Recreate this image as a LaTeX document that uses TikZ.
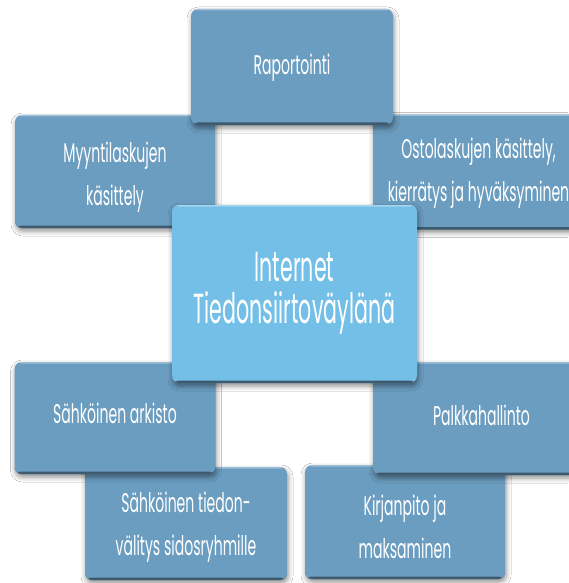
\documentclass[tikz,border=0pt]{standalone}
\usepackage{fontspec}
\newfontfamily\boxfont[FakeStretch=0.52]{Poppins}
\newfontfamily\bigfont[FakeStretch=0.49]{Poppins}
\usetikzlibrary{shadows.blur}
\definecolor{boxblue}{HTML}{6B9DC0}
\definecolor{boxlight}{HTML}{74BFE7}
\definecolor{edgedark}{HTML}{3E5A6E}
\tikzset{
  panel/.style={fill=boxblue, rounded corners=7pt, inner sep=0pt,
    blur shadow={shadow xshift=1pt, shadow yshift=-3pt, shadow blur radius=5pt, shadow opacity=45},
    path picture={
      \fill[edgedark] (path picture bounding box.south west) rectangle ([yshift=2.5pt]path picture bounding box.south east);
      \fill[white,opacity=.35] (path picture bounding box.north west) rectangle ([yshift=-1.5pt]path picture bounding box.north east);
    }},
  hub/.style={panel, fill=boxlight},
  paneltext/.style={inner sep=0pt, align=center, text=white, font=\boxfont\fontsize{27}{43}\selectfont},
  hubtext/.style={paneltext, font=\bigfont\fontsize{42}{42}\selectfont}
}
\begin{document}
\begin{tikzpicture}[x=1pt,y=-1pt]
\useasboundingbox (0,0) rectangle (568,583);
\fill[white] (0,0) rectangle (568,583);
% boxes, back to front
\node[panel, minimum width=200pt, minimum height=113pt] (myynti) at (115,171.5) {};
\node[paneltext] (myyntiT) at ([yshift=-6pt]myynti.center) {Myyntilaskujen\\käsittely};
\node[panel, minimum width=217pt, minimum height=115pt] (osto) at (481.5,172) {};
\node[paneltext] (ostoT) at ([xshift=-3pt,yshift=-1pt]osto.center) {Ostolaskujen käsittely,\\kierrätys ja hyväksyminen};
\node[panel, minimum width=202pt, minimum height=116pt] (rap) at (292,67) {};
\node[paneltext] (rapT) at ([yshift=-1pt]rap.center) {Raportointi};
\node[panel, minimum width=200pt, minimum height=114pt] (kirj) at (405,522) {};
\node[paneltext] (kirjT) at ([yshift=-5pt]kirj.center) {Kirjanpito ja\\maksaminen};
\node[panel, minimum width=202pt, minimum height=113pt] (tiedon) at (186,523.5) {};
\node[paneltext] (tiedonT) at ([yshift=-4pt]tiedon.center) {Sähköinen tiedon-\\välitys sidosryhmille};
\node[panel, minimum width=217pt, minimum height=113pt] (palkka) at (481.5,418.5) {};
\node[paneltext] (palkkaT) at ([yshift=3pt]palkka.center) {Palkkahallinto};
\node[panel, minimum width=201pt, minimum height=112pt] (arkisto) at (115,418) {};
\node[paneltext] (arkistoT) at ([yshift=5pt]arkisto.center) {Sähköinen arkisto};
\node[hub, minimum width=245pt, minimum height=178pt] (hubnode) at (294.5,294) {};
\node[hubtext] (hubT) at ([yshift=1pt]hubnode.center) {Internet\\Tiedonsiirtoväylänä};
\end{tikzpicture}
\end{document}
